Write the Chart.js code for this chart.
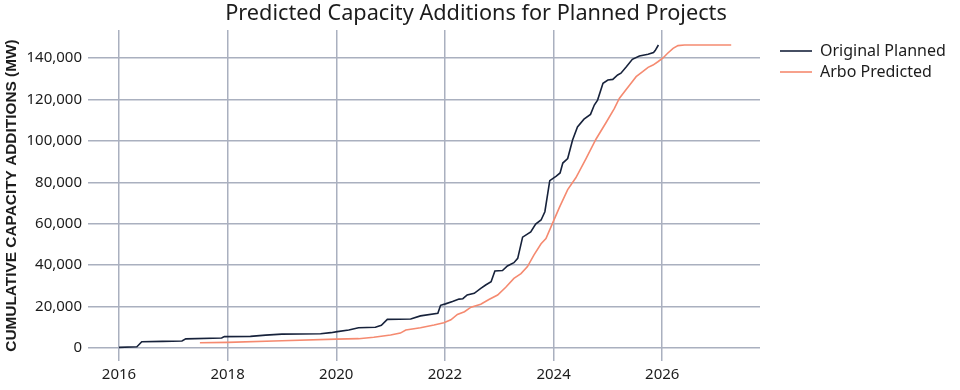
<!DOCTYPE html>
<html>
<head>
<meta charset="utf-8">
<script src="https://cdn.jsdelivr.net/npm/chart.js@4/dist/chart.umd.min.js"></script>
<style>
  html, body { margin: 0; padding: 0; background: #fff; }
  #wrap { width: 960px; height: 390px; }
</style>
</head>
<body>
<div id="wrap"><canvas id="capacity"></canvas></div>
<script>
// series
var planned_years = [2016.00, 2016.33, 2016.42, 2016.80, 2017.16, 2017.23, 2017.89, 2017.94, 2018.42, 2018.70,
  2019.00, 2019.71, 2019.90, 2020.02, 2020.23, 2020.41, 2020.72, 2020.83, 2020.94, 2021.37,
  2021.55, 2021.87, 2021.92, 2022.01, 2022.14, 2022.26, 2022.33, 2022.41, 2022.54, 2022.66,
  2022.75, 2022.85, 2022.92, 2023.06, 2023.15, 2023.27, 2023.34, 2023.43, 2023.58, 2023.67,
  2023.77, 2023.84, 2023.93, 2024.05, 2024.12, 2024.17, 2024.26, 2024.35, 2024.44, 2024.56,
  2024.68, 2024.75, 2024.81, 2024.91, 2025.00, 2025.09, 2025.18, 2025.24, 2025.34, 2025.45,
  2025.58, 2025.74, 2025.84, 2025.87, 2025.93];
var planned_mw = [300, 600, 3000, 3200, 3400, 4400, 4800, 5500, 5600, 6200,
  6700, 6900, 7400, 7900, 8700, 9800, 10000, 11000, 13800, 14000,
  15500, 16800, 20600, 21300, 22400, 23600, 23800, 25600, 26400, 28800,
  30400, 32000, 37200, 37400, 39600, 41200, 43300, 53500, 56000, 59800,
  61800, 65800, 80800, 83000, 84500, 89300, 91500, 100400, 106700, 110500,
  112800, 117300, 119700, 127800, 129400, 129700, 131800, 132700, 135800, 139400,
  141000, 141800, 142700, 143600, 146300];

var arbo_years = [2017.49, 2018.00, 2019.00, 2020.00, 2020.41, 2020.69, 2021.00, 2021.18, 2021.28, 2021.55,
  2021.80, 2021.98, 2022.11, 2022.23, 2022.36, 2022.48, 2022.66, 2022.81, 2022.97, 2023.12,
  2023.27, 2023.40, 2023.52, 2023.64, 2023.77, 2023.86, 2023.98, 2024.11, 2024.26, 2024.41,
  2024.60, 2024.78, 2024.97, 2025.12, 2025.21, 2025.34, 2025.43, 2025.52, 2025.64, 2025.74,
  2025.83, 2025.92, 2026.01, 2026.10, 2026.20, 2026.29, 2026.41, 2027.27];
var arbo_mw = [2500, 2700, 3500, 4300, 4500, 5200, 6300, 7200, 8700, 9800,
  11100, 12200, 13600, 16200, 17500, 19700, 21100, 23400, 25600, 29300,
  33600, 35900, 39300, 45000, 50300, 52800, 60200, 68000, 76500, 82200,
  91600, 100800, 109000, 115700, 120500, 124900, 127900, 131000, 133400, 135500,
  136600, 138200, 139900, 142300, 144700, 146000, 146300, 146300];

var x_ticks = [2016, 2018, 2020, 2022, 2024, 2026];
var y_ticks = [0, 20000, 40000, 60000, 80000, 100000, 120000, 140000];

var gridColor = "#aab0bf";
var textColor = "#1c1c1c";
var mainFont = "'Noto Sans', sans-serif";

function toPoints(xs, ys) {
  return xs.map(function (x, i) { return {x: x, y: ys[i]}; });
}

// legend: fixed width, entries pushed right a bit (gap to the plot like the original)
var legendShift = {
  id: "legendShift",
  beforeUpdate: function (chart) {
    var lg = chart.legend;
    if (!lg || lg._shifted) return;
    lg._shifted = true;
    var fit = lg.fit, draw = lg.draw;
    lg.fit = function () { fit.apply(this, arguments); this.width = 192; };
    lg.draw = function () {
      this.ctx.save();
      this.ctx.translate(15, 0);
      draw.apply(this, arguments);
      this.ctx.restore();
    };
  }
};

var capacity_chart = new Chart("capacity", {
  type: "line",
  data: {
    datasets: [{
      label: "Original Planned",
      data: toPoints(planned_years, planned_mw),
      borderColor: "#17223b",
      backgroundColor: "#17223b",
      borderWidth: 1.6,
      pointRadius: 0,
      tension: 0
    }, {
      label: "Arbo Predicted",
      data: toPoints(arbo_years, arbo_mw),
      borderColor: "#f58a70",
      backgroundColor: "#f58a70",
      borderWidth: 1.6,
      pointRadius: 0,
      tension: 0
    }]
  },
  plugins: [legendShift],
  options: {
    responsive: true,
    maintainAspectRatio: false,
    animation: false,
    layout: {padding: {left: 0, right: 8, top: 0, bottom: 0}},
    plugins: {
      title: {
        display: true,
        text: "Predicted Capacity Additions for Planned Projects",
        color: textColor,
        font: {family: mainFont, size: 21.7, weight: "normal"},
        padding: {top: 1, bottom: 3}
      },
      legend: {
        position: "right",
        align: "start",
        title: {display: true, text: "", font: {size: 6}, padding: {top: 30.8, bottom: 0}},
        labels: {
          usePointStyle: true,
          pointStyle: "line",
          pointStyleWidth: 32,
          color: textColor,
          padding: 5,
          font: {family: mainFont, size: 16}
        }
      },
      tooltip: {enabled: false}
    },
    scales: {
      x: {
        type: "linear",
        min: 2015.43,
        max: 2027.8,
        afterBuildTicks: function (s) { s.ticks = x_ticks.map(function (v) { return {value: v}; }); },
        afterFit: function (s) { s.height = 29; },
        grid: {color: gridColor, lineWidth: 1.5, drawTicks: false},
        border: {display: false},
        ticks: {
          color: textColor,
          padding: 5,
          maxRotation: 0,
          font: {family: mainFont, size: 15},
          callback: function (v) { return String(v); }
        }
      },
      y: {
        type: "linear",
        min: -6280,
        max: 153520,
        afterBuildTicks: function (s) { s.ticks = y_ticks.map(function (v) { return {value: v}; }); },
        afterFit: function (s) { s.width = 88; },
        grid: {color: gridColor, lineWidth: 1.5, drawTicks: false},
        border: {display: false},
        title: {
          display: true,
          text: "CUMULATIVE CAPACITY ADDITIONS (MW)",
          color: textColor,
          font: {family: "'Liberation Sans', Arial, sans-serif", size: 15.4, weight: "bold"},
          padding: {top: 3, bottom: 4}
        },
        ticks: {
          color: textColor,
          padding: 6,
          font: {family: mainFont, size: 15},
          callback: function (v) { return v.toLocaleString("en-US"); }
        }
      }
    }
  }
});
</script>
</body>
</html>
